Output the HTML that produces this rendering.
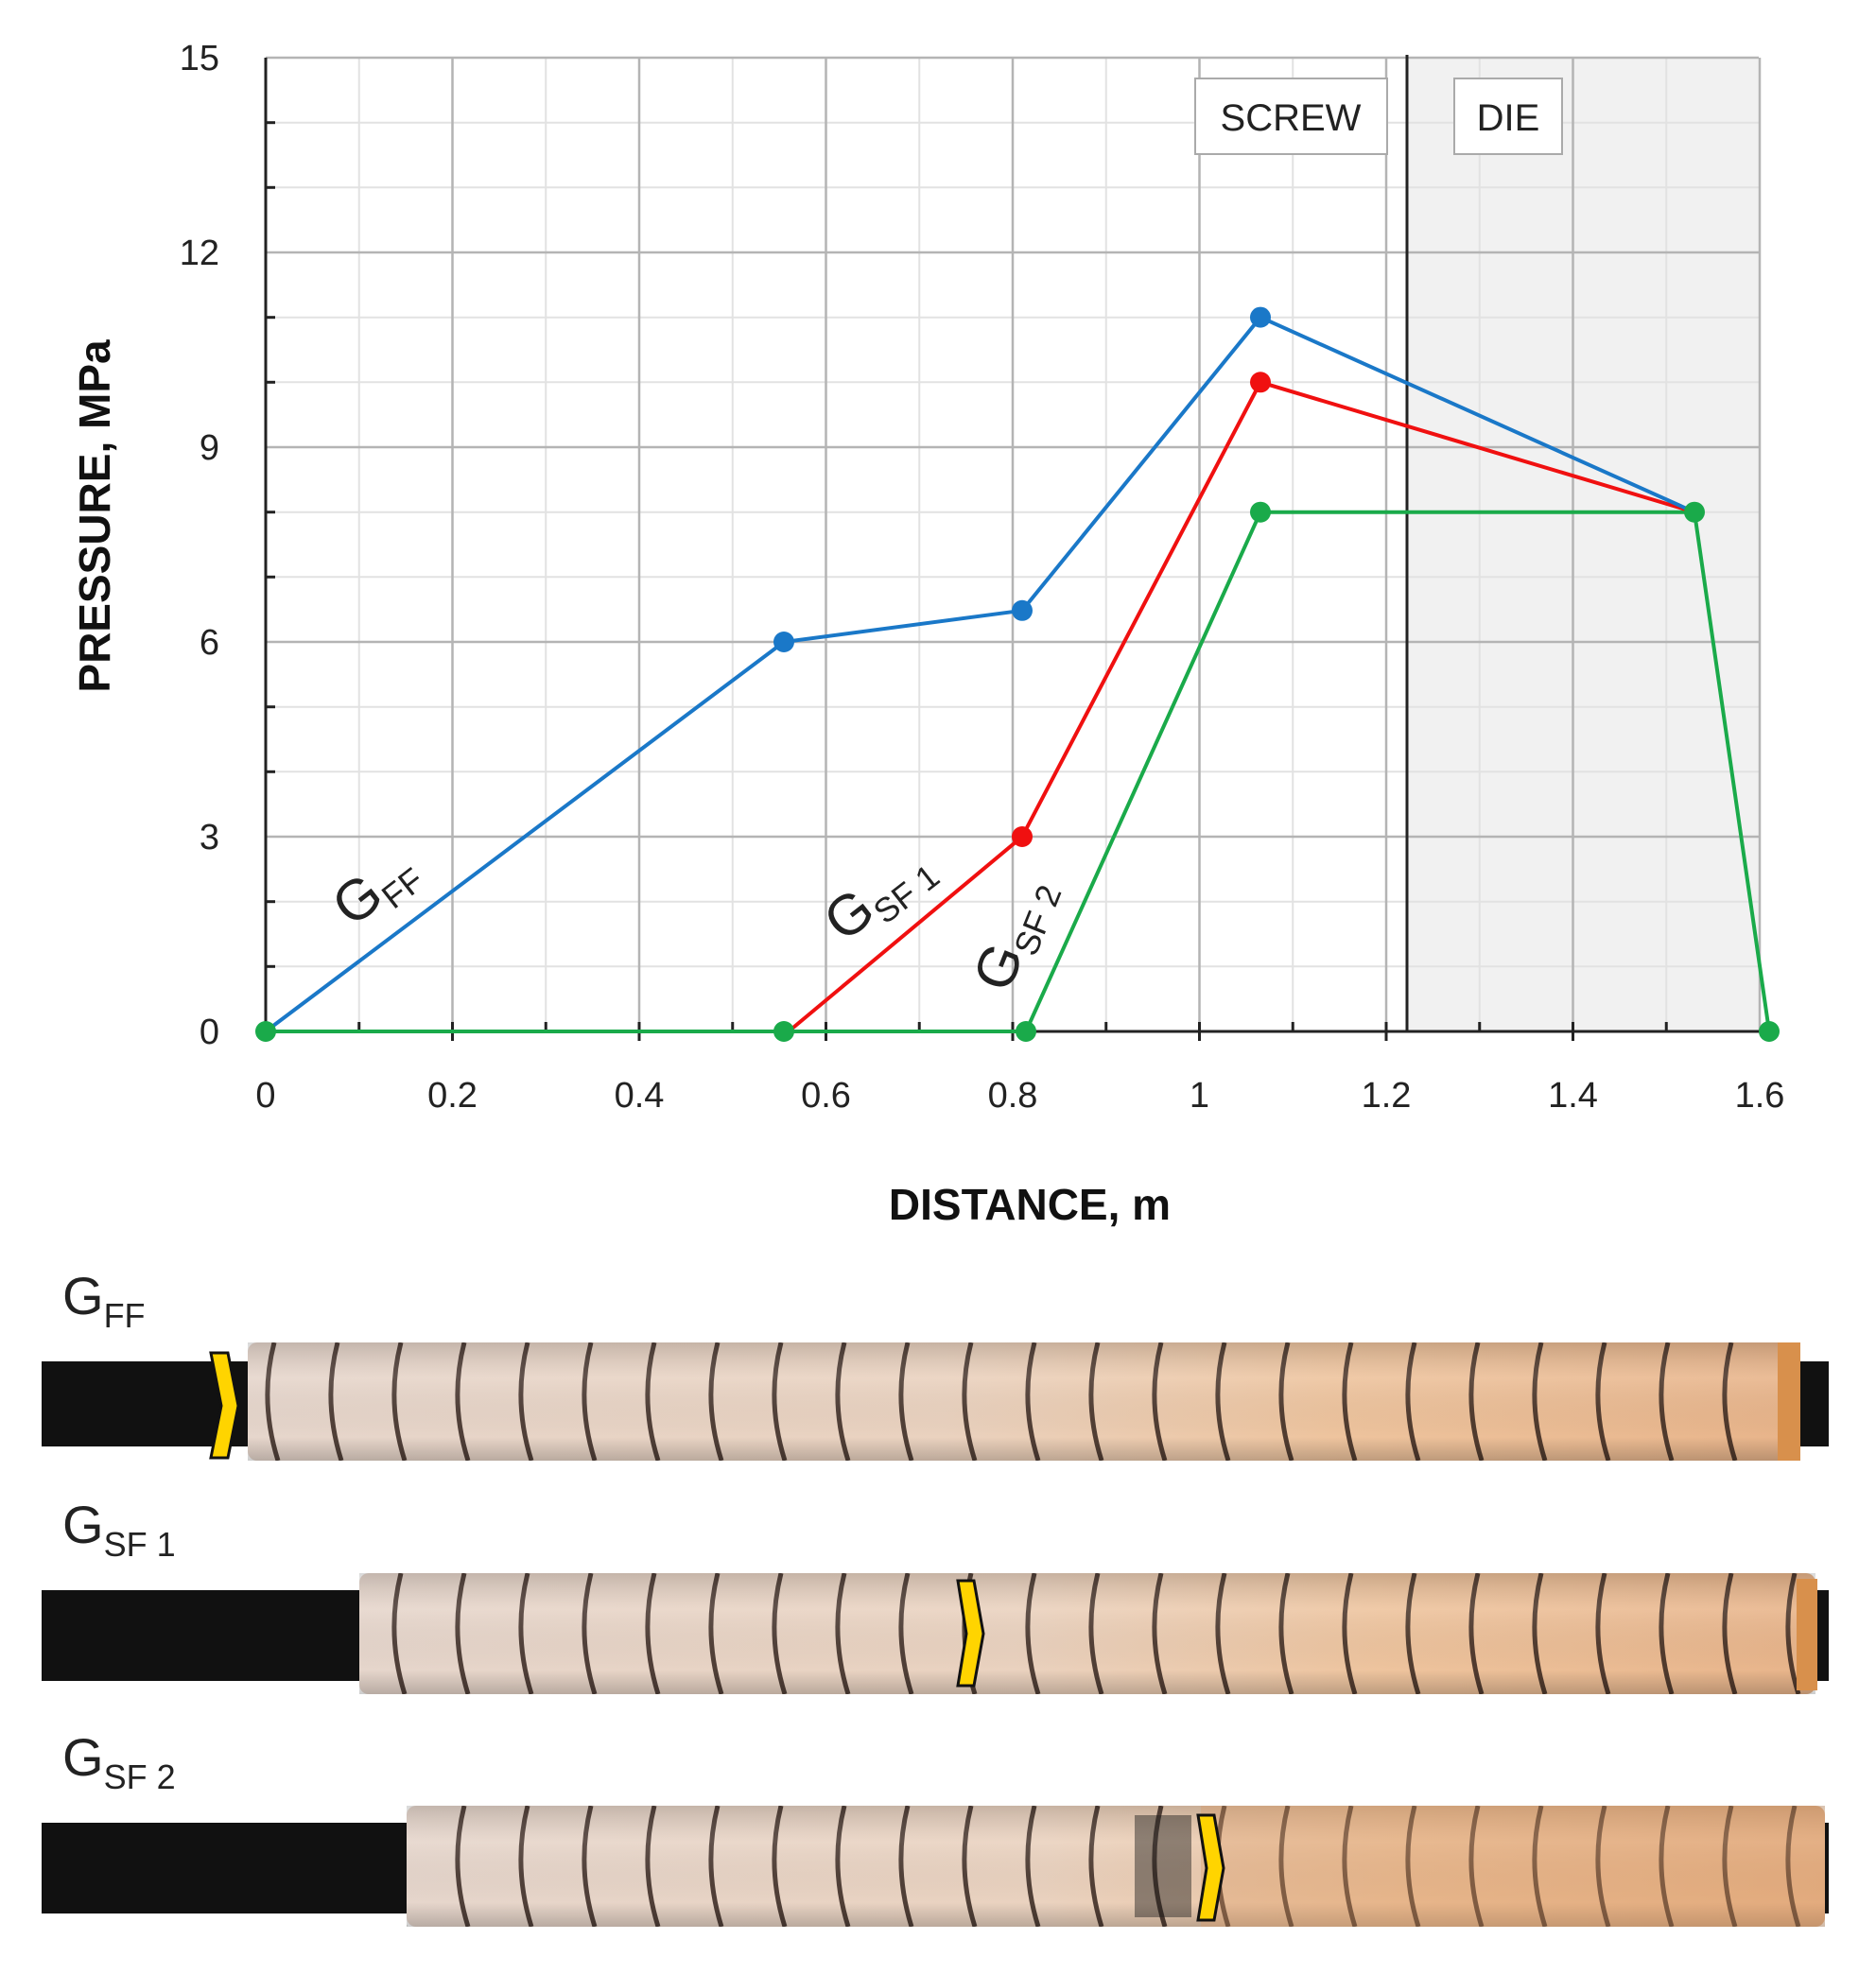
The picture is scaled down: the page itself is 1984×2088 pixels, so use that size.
<!DOCTYPE html>
<html><head><meta charset="utf-8"><style>
html,body{margin:0;padding:0;background:#fff}
svg{display:block}
text{font-family:"Liberation Sans",sans-serif}
</style></head><body>
<svg width="1984" height="2088" viewBox="0 0 1984 2088" xmlns="http://www.w3.org/2000/svg">
<defs>
<linearGradient id="coil" x1="0" x2="1" y1="0" y2="0">
<stop offset="0" stop-color="#e6d6cc"/><stop offset="0.45" stop-color="#ead2bf"/><stop offset="0.7" stop-color="#eec49e"/><stop offset="1" stop-color="#e8b48a"/>
</linearGradient>
<linearGradient id="shade" x1="0" x2="0" y1="0" y2="1">
<stop offset="0" stop-color="#000" stop-opacity="0.15"/><stop offset="0.3" stop-color="#fff" stop-opacity="0.1"/><stop offset="0.8" stop-color="#000" stop-opacity="0"/><stop offset="1" stop-color="#000" stop-opacity="0.2"/>
</linearGradient>
<pattern id="st1" x="0" y="1420" width="67" height="125" patternUnits="userSpaceOnUse">
<path d="M22 0 Q6 62 26 125" stroke="#2a1a14" stroke-width="5" fill="none"/>
</pattern>
<pattern id="st2" x="0" y="1664" width="67" height="128" patternUnits="userSpaceOnUse">
<path d="M22 0 Q6 64 26 128" stroke="#2a1a14" stroke-width="5" fill="none"/>
</pattern>
<pattern id="st3" x="0" y="1910" width="67" height="128" patternUnits="userSpaceOnUse">
<path d="M22 0 Q6 64 26 128" stroke="#2a1a14" stroke-width="5" fill="none"/>
</pattern>
</defs>
<rect x="1488" y="61" width="372" height="1030" fill="#f1f1f1"/>
<g stroke="#e2e2e2" stroke-width="2">
<line x1="379.75" y1="61" x2="379.75" y2="1091"/><line x1="577.25" y1="61" x2="577.25" y2="1091"/><line x1="774.75" y1="61" x2="774.75" y2="1091"/><line x1="972.25" y1="61" x2="972.25" y2="1091"/><line x1="1169.75" y1="61" x2="1169.75" y2="1091"/><line x1="1367.25" y1="61" x2="1367.25" y2="1091"/><line x1="1564.75" y1="61" x2="1564.75" y2="1091"/><line x1="1762.25" y1="61" x2="1762.25" y2="1091"/>
<line x1="281" y1="129.7" x2="1860" y2="129.7"/><line x1="281" y1="198.3" x2="1860" y2="198.3"/><line x1="281" y1="335.7" x2="1860" y2="335.7"/><line x1="281" y1="404.3" x2="1860" y2="404.3"/><line x1="281" y1="541.7" x2="1860" y2="541.7"/><line x1="281" y1="610.3" x2="1860" y2="610.3"/><line x1="281" y1="747.7" x2="1860" y2="747.7"/><line x1="281" y1="816.3" x2="1860" y2="816.3"/><line x1="281" y1="953.7" x2="1860" y2="953.7"/><line x1="281" y1="1022.3" x2="1860" y2="1022.3"/>
</g>
<g stroke="#b4b4b4" stroke-width="2.5">
<line x1="478.5" y1="61" x2="478.5" y2="1091"/><line x1="676" y1="61" x2="676" y2="1091"/><line x1="873.5" y1="61" x2="873.5" y2="1091"/><line x1="1071" y1="61" x2="1071" y2="1091"/><line x1="1268.5" y1="61" x2="1268.5" y2="1091"/><line x1="1466" y1="61" x2="1466" y2="1091"/><line x1="1663.5" y1="61" x2="1663.5" y2="1091"/><line x1="1861" y1="61" x2="1861" y2="1091"/>
<line x1="281" y1="61" x2="1860" y2="61"/><line x1="281" y1="267" x2="1860" y2="267"/><line x1="281" y1="473" x2="1860" y2="473"/><line x1="281" y1="679" x2="1860" y2="679"/><line x1="281" y1="885" x2="1860" y2="885"/>
</g>
<line x1="1488" y1="58" x2="1488" y2="1091" stroke="#222" stroke-width="3"/>
<line x1="281" y1="61" x2="281" y2="1091" stroke="#222" stroke-width="3"/>
<line x1="272" y1="1091" x2="1862" y2="1091" stroke="#222" stroke-width="3"/>
<g stroke="#222" stroke-width="3">
<line x1="281" y1="129.7" x2="291" y2="129.7"/><line x1="281" y1="198.3" x2="291" y2="198.3"/><line x1="281" y1="335.7" x2="291" y2="335.7"/><line x1="281" y1="404.3" x2="291" y2="404.3"/><line x1="281" y1="541.7" x2="291" y2="541.7"/><line x1="281" y1="610.3" x2="291" y2="610.3"/><line x1="281" y1="747.7" x2="291" y2="747.7"/><line x1="281" y1="816.3" x2="291" y2="816.3"/><line x1="281" y1="953.7" x2="291" y2="953.7"/><line x1="281" y1="1022.3" x2="291" y2="1022.3"/>
<line x1="379.75" y1="1081" x2="379.75" y2="1091"/><line x1="577.25" y1="1081" x2="577.25" y2="1091"/><line x1="774.75" y1="1081" x2="774.75" y2="1091"/><line x1="972.25" y1="1081" x2="972.25" y2="1091"/><line x1="1169.75" y1="1081" x2="1169.75" y2="1091"/><line x1="1367.25" y1="1081" x2="1367.25" y2="1091"/><line x1="1564.75" y1="1081" x2="1564.75" y2="1091"/><line x1="1762.25" y1="1081" x2="1762.25" y2="1091"/>
<line x1="478.5" y1="1081" x2="478.5" y2="1101"/><line x1="676" y1="1081" x2="676" y2="1101"/><line x1="873.5" y1="1081" x2="873.5" y2="1101"/><line x1="1071" y1="1081" x2="1071" y2="1101"/><line x1="1268.5" y1="1081" x2="1268.5" y2="1101"/><line x1="1466" y1="1081" x2="1466" y2="1101"/><line x1="1663.5" y1="1081" x2="1663.5" y2="1101"/>
</g>
<rect x="1264" y="83" width="203" height="80" fill="#fff" stroke="#aaa" stroke-width="2"/>
<text x="1365" y="138" font-size="40" text-anchor="middle" fill="#222">SCREW</text>
<rect x="1538" y="83" width="114" height="80" fill="#fff" stroke="#aaa" stroke-width="2"/>
<text x="1595" y="138" font-size="40" text-anchor="middle" fill="#222">DIE</text>
<g font-size="38" fill="#222" text-anchor="end">
<text x="232" y="74">15</text><text x="232" y="280">12</text><text x="232" y="486">9</text><text x="232" y="692">6</text><text x="232" y="898">3</text><text x="232" y="1104">0</text>
</g>
<g font-size="38" fill="#222" text-anchor="middle">
<text x="281" y="1171">0</text><text x="478.5" y="1171">0.2</text><text x="676" y="1171">0.4</text><text x="873.5" y="1171">0.6</text><text x="1071" y="1171">0.8</text><text x="1268.5" y="1171">1</text><text x="1466" y="1171">1.2</text><text x="1663.5" y="1171">1.4</text><text x="1861" y="1171">1.6</text>
</g>
<text x="1089" y="1290" font-size="46" font-weight="bold" text-anchor="middle" fill="#111">DISTANCE, m</text>
<text transform="translate(116,546) rotate(-90)" font-size="46" font-weight="bold" text-anchor="middle" fill="#111">PRESSURE, MPa</text>
<polyline points="281,1091 829,1091 1085,1091 1333,541.7 1792,541.7 1871,1091" fill="none" stroke="#1aaa4a" stroke-width="4"/>
<polyline points="834,1091 1081,885 1333,404.3 1792,541.7" fill="none" stroke="#f01010" stroke-width="4"/>
<polyline points="281,1091 829,679 1081,645.8 1333,335.6 1792,541.7" fill="none" stroke="#1a78c8" stroke-width="4"/>
<g fill="#1a78c8"><circle cx="829" cy="679" r="11"/><circle cx="1081" cy="645.8" r="11"/><circle cx="1333" cy="335.6" r="11"/></g>
<g fill="#f01010"><circle cx="1081" cy="885" r="11"/><circle cx="1333" cy="404.3" r="11"/></g>
<g fill="#1aaa4a"><circle cx="281" cy="1091" r="11"/><circle cx="829" cy="1091" r="11"/><circle cx="1085" cy="1091" r="11"/><circle cx="1333" cy="541.7" r="11"/><circle cx="1792" cy="541.7" r="11"/><circle cx="1871" cy="1091" r="11"/></g>
<g fill="#222" font-size="60">
<text transform="translate(372,982) rotate(-38)">G<tspan font-size="36" dy="12">FF</tspan></text>
<text transform="translate(892,998) rotate(-38)">G<tspan font-size="36" dy="12">SF 1</tspan></text>
<text transform="translate(1066,1052) rotate(-68)">G<tspan font-size="36" dy="12">SF 2</tspan></text>
</g>
<g fill="#222" font-size="56">
<text x="66" y="1390">G<tspan font-size="36" dy="14">FF</tspan></text>
<text x="66" y="1632">G<tspan font-size="36" dy="14">SF 1</tspan></text>
<text x="66" y="1878">G<tspan font-size="36" dy="14">SF 2</tspan></text>
</g>
<g>
<rect x="44" y="1440" width="1890" height="90" fill="#111"/>
<rect x="262" y="1420" width="1640" height="125" rx="10" fill="url(#coil)"/>
<rect x="262" y="1420" width="1640" height="125" fill="url(#st1)" opacity="0.8"/>
<rect x="262" y="1420" width="1640" height="125" fill="url(#shade)"/>
<rect x="1880" y="1420" width="24" height="125" fill="#d8904c"/>
<path d="M223 1431 L241 1431 L252 1487 L241 1542 L223 1542 L234 1487 Z" fill="#ffd400" stroke="#111" stroke-width="3"/>
</g>
<g>
<rect x="44" y="1682" width="1890" height="96" fill="#111"/>
<rect x="380" y="1664" width="1540" height="128" rx="10" fill="url(#coil)"/>
<rect x="380" y="1664" width="1540" height="128" fill="url(#st2)" opacity="0.8"/>
<rect x="380" y="1664" width="1540" height="128" fill="url(#shade)"/>
<rect x="1900" y="1670" width="22" height="118" fill="#d8904c"/>
<path d="M1013 1672 L1030 1672 L1040 1728 L1030 1783 L1013 1783 L1022 1728 Z" fill="#ffd400" stroke="#111" stroke-width="3"/>
</g>
<g>
<rect x="44" y="1928" width="1890" height="96" fill="#111"/>
<rect x="430" y="1910" width="1500" height="128" rx="10" fill="url(#coil)"/>
<rect x="430" y="1910" width="1500" height="128" fill="url(#st3)" opacity="0.8"/>
<rect x="430" y="1910" width="1500" height="128" fill="url(#shade)"/>
<rect x="1200" y="1920" width="60" height="108" fill="#1a1a1a" opacity="0.45"/>
<rect x="1270" y="1910" width="660" height="128" fill="#d99a66" opacity="0.35"/>
<path d="M1267 1920 L1284 1920 L1294 1976 L1284 2031 L1267 2031 L1276 1976 Z" fill="#ffd400" stroke="#111" stroke-width="3"/>
</g>
</svg>
</body></html>
